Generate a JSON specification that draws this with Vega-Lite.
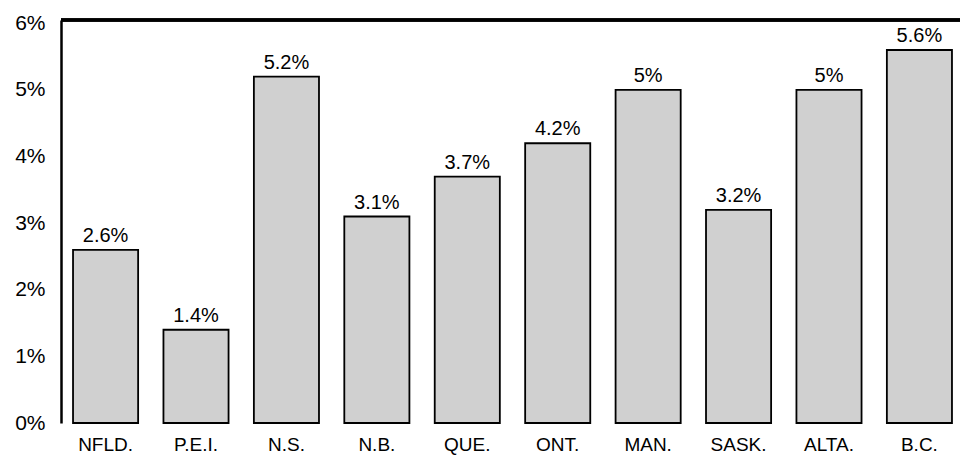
{
  "$schema": "https://vega.github.io/schema/vega-lite/v6.json",
  "autosize": {"type": "none"},
  "width": 903,
  "height": 403,
  "padding": {"left": 61, "top": 20, "right": 0, "bottom": 43},
  "background": "white",
  "config": {
    "view": {"stroke": null},
    "font": "Liberation Sans"
  },
  "data": {
    "values": [
      {"province": "NFLD.", "value": 2.6},
      {"province": "P.E.I.", "value": 1.4},
      {"province": "N.S.", "value": 5.2},
      {"province": "N.B.", "value": 3.1},
      {"province": "QUE.", "value": 3.7},
      {"province": "ONT.", "value": 4.2},
      {"province": "MAN.", "value": 5.0},
      {"province": "SASK.", "value": 3.2},
      {"province": "ALTA.", "value": 5.0},
      {"province": "B.C.", "value": 5.6}
    ]
  },
  "layer": [
    {
      "mark": {"type": "bar", "fill": "#d0d0d0", "stroke": "black", "strokeWidth": 1.8},
      "encoding": {
        "x": {
          "field": "province",
          "type": "nominal",
          "sort": null,
          "scale": {"paddingInner": 0.28, "paddingOuter": 0.133},
          "axis": {
            "title": null,
            "domain": false,
            "ticks": false,
            "labelAngle": 0,
            "labelFontSize": 19,
            "labelFontWeight": 500,
            "labelColor": "black",
            "labelPadding": 12,
            "labelFont": "Liberation Sans"
          }
        },
        "y": {
          "field": "value",
          "type": "quantitative",
          "scale": {"domain": [0, 6.05], "nice": false},
          "axis": {
            "title": null,
            "values": [0, 1, 2, 3, 4, 5, 6],
            "labelExpr": "datum.value + '%'",
            "grid": false,
            "ticks": false,
            "domainColor": "black",
            "domainWidth": 2.5,
            "labelFontSize": 21,
            "labelColor": "black",
            "labelPadding": 16,
            "labelFont": "Liberation Sans"
          }
        }
      }
    },
    {
      "transform": [{"calculate": "format(datum.value, '.1~f') + '%'", "as": "label"}],
      "mark": {"type": "text", "baseline": "bottom", "dy": -4, "fontSize": 20, "color": "black"},
      "encoding": {
        "x": {"field": "province", "type": "nominal", "sort": null},
        "y": {"field": "value", "type": "quantitative"},
        "text": {"field": "label"}
      }
    },
    {
      "mark": {"type": "rule", "color": "black", "strokeWidth": 2.5},
      "encoding": {"y": {"datum": 6.05}}
    }
  ]
}
